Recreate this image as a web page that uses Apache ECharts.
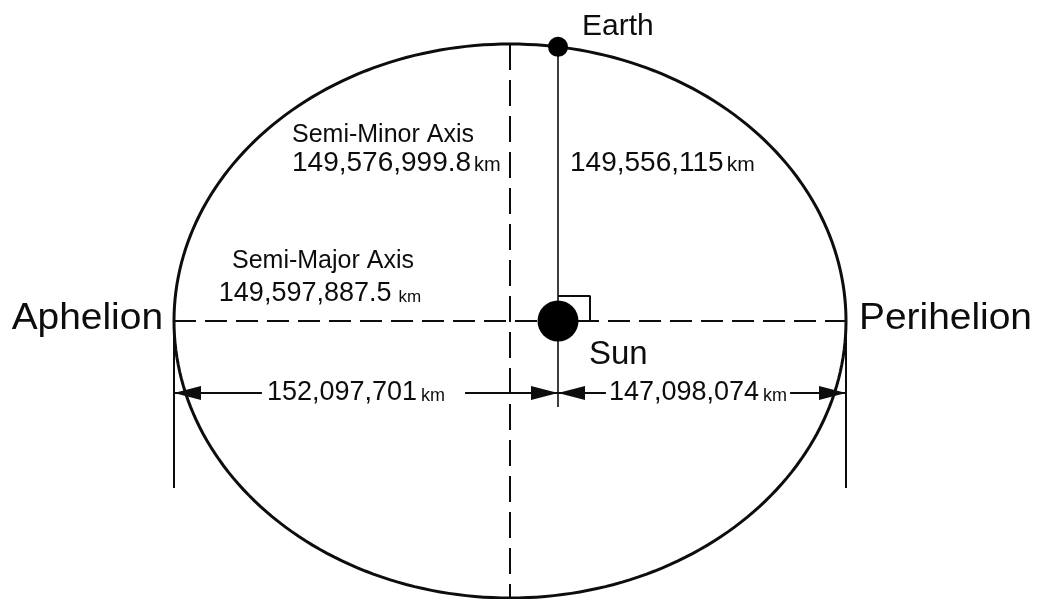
<!DOCTYPE html>
<html>
<head>
<meta charset="utf-8">
<title>Earth orbit</title>
<script src="https://cdn.jsdelivr.net/npm/echarts@6/dist/echarts.min.js"></script>
<style>
  html, body { margin: 0; padding: 0; background: #fff; }
  #chart { width: 1037px; height: 599px; }
</style>
</head>
<body>
<div id="chart"></div>
<script>
// data
const bodies = ['Earth', 'Sun'];
const apsides = ['Aphelion', 'Perihelion'];
const axisNames = ['Semi-Major Axis', 'Semi-Minor Axis'];
const axisLengthsKm = [149597887.5, 149576999.8];
const earthSunKm = [149556115];
const apsisDistancesKm = [152097701, 147098074];

// schematic geometry (drawing units, ~1 unit per px, ellipse centre at 0,0)
const ORBIT = {a: 336, b: 277, focus: 48};
const X_RANGE = [-510, 527];
const Y_RANGE = [-278, 321];
const DIM_Y = -72;
const FONT = '"Liberation Sans", Arial, Helvetica, sans-serif';
const INK = '#0d0d0d';
// canvas 'middle' baseline sits about this fraction of the font size above the alphabetic one
const MID = 0.3465;

const earthY = ORBIT.b * Math.sqrt(1 - Math.pow(ORBIT.focus / ORBIT.a, 2));

function fmtNum(v) {
  const parts = String(v).split('.');
  parts[0] = parts[0].replace(/\B(?=(\d{3})+(?!\d))/g, ',');
  return parts.join('.');
}

const measureCtx = document.createElement('canvas').getContext('2d');
function textWidth(str, size) {
  measureCtx.font = size + 'px ' + FONT;
  return measureCtx.measureText(str).width;
}

// 标签
const labelItems = [
  {text: bodies[0], pos: [72, 294], align: 'left', size: 30},
  {text: bodies[1], pos: [79, -34], align: 'left', size: 33},
  {text: apsides[0], pos: [-347, 2], align: 'right', size: 36, scaleX: 1.08},
  {text: apsides[1], pos: [349, 2], align: 'left', size: 36, scaleX: 1.08},
  {text: axisNames[1], pos: [-218, 186], align: 'left', size: 25},
  {km: axisLengthsKm[1], pos: [-218, 158], align: 'left', size: 28, kmSize: 20, gap: 3},
  {km: earthSunKm[0], pos: [60, 158], align: 'left', size: 28, kmSize: 21, gap: 3},
  {text: axisNames[0], pos: [-187, 60], align: 'center', size: 25},
  {km: axisLengthsKm[0], pos: [-190, 27], align: 'center', size: 27, kmSize: 17, gap: 7}
];

// dimension lines: from, to, label centre x
const dimItems = [
  [-ORBIT.a, ORBIT.focus, -154],
  [ORBIT.focus, ORBIT.a, 188]
];
const dimPadding = [[20, 5], [3, 3]];   // right, left white margin round the label

// number + smaller "km" sharing one baseline
function kmLabel(px, py, align, value, size, kmSize, gap, pad) {
  const num = fmtNum(value);
  const wN = textWidth(num, size);
  const wK = textWidth('km', kmSize);
  const total = wN + gap + wK;
  let x0 = px;
  if (align === 'center') x0 = px - total / 2;
  else if (align === 'right') x0 = px - total;
  const children = [];
  if (pad) {
    const h = size * 0.9;
    children.push({
      type: 'rect',
      shape: {x: x0 - pad[1], y: py - h / 2, width: total + pad[0] + pad[1], height: h},
      style: {fill: '#fff'}
    });
  }
  children.push({
    type: 'text', x: x0, y: py,
    style: {text: num, fontFamily: FONT, fontSize: size, fill: INK, align: 'left', verticalAlign: 'middle'}
  });
  children.push({
    type: 'text', x: x0 + wN + gap, y: py + MID * (size - kmSize),
    style: {text: 'km', fontFamily: FONT, fontSize: kmSize, fill: INK, align: 'left', verticalAlign: 'middle'}
  });
  return {type: 'group', children: children};
}

function segment(name, pts, width, type) {
  return {
    name: name,
    type: 'line',
    data: pts,
    symbol: 'none',
    silent: true,
    lineStyle: {color: INK, width: width, type: type || 'solid'},
    z: 2
  };
}

const chart = echarts.init(document.getElementById('chart'));

const option = {
  backgroundColor: '#fff',
  animation: false,
  grid: {left: 0, right: 0, top: 0, bottom: 0},
  xAxis: {type: 'value', min: X_RANGE[0], max: X_RANGE[1], show: false},
  yAxis: {type: 'value', min: Y_RANGE[0], max: Y_RANGE[1], show: false},
  series: [
    // orbit
    {
      name: 'orbit',
      type: 'custom',
      silent: true,
      z: 3,
      data: [[0, 0]],
      renderItem: function (params, api) {
        const pts = [];
        for (let k = 0; k <= 240; k++) {
          const t = k / 240 * Math.PI * 2;
          pts.push(api.coord([api.value(0) + ORBIT.a * Math.cos(t), api.value(1) + ORBIT.b * Math.sin(t)]));
        }
        return {type: 'polygon', shape: {points: pts}, style: {fill: 'none', stroke: INK, lineWidth: 3}};
      }
    },
    segment('majorAxis', [[-ORBIT.a, 0], [ORBIT.a, 0]], 2, [22, 9]),
    segment('minorAxis', [[0, ORBIT.b], [0, -ORBIT.b]], 2, [26, 10]),
    segment('earthSun', [[ORBIT.focus, earthY], [ORBIT.focus, -86]], 1.6),
    segment('rightAngle', [[ORBIT.focus, 25], [ORBIT.focus + 32, 25], [ORBIT.focus + 32, 0]], 2),
    segment('extLeft', [[-ORBIT.a, -8], [-ORBIT.a, -167]], 2),
    segment('extRight', [[ORBIT.a, -8], [ORBIT.a, -167]], 2),
    // Earth and Sun
    {
      name: 'bodies',
      type: 'scatter',
      silent: true,
      z: 5,
      data: [[ORBIT.focus, earthY], [ORBIT.focus, 0]],
      symbolSize: function (val, params) {
        return [20, 41][params.dataIndex];
      },
      itemStyle: {color: '#000', opacity: 1}
    },
    // distance arrows
    {
      name: 'distances',
      type: 'custom',
      silent: true,
      z: 6,
      data: dimItems.map(d => [d[0], d[1], DIM_Y, d[2]]),
      renderItem: function (params, api) {
        const i = params.dataIndex;
        const p1 = api.coord([api.value(0), api.value(2)]);
        const p2 = api.coord([api.value(1), api.value(2)]);
        const lc = api.coord([api.value(3), api.value(2)]);
        const len = 27, hw = 7;
        return {
          type: 'group',
          children: [
            {type: 'line', shape: {x1: p1[0], y1: p1[1], x2: p2[0], y2: p2[1]}, style: {stroke: INK, lineWidth: 2}},
            {type: 'polygon', shape: {points: [[p1[0], p1[1]], [p1[0] + len, p1[1] - hw], [p1[0] + len, p1[1] + hw]]}, style: {fill: INK}},
            {type: 'polygon', shape: {points: [[p2[0], p2[1]], [p2[0] - len, p2[1] - hw], [p2[0] - len, p2[1] + hw]]}, style: {fill: INK}},
            kmLabel(lc[0], lc[1], 'center', apsisDistancesKm[i], 27, 18, 4, dimPadding[i])
          ]
        };
      }
    },
    // text labels
    {
      name: 'labels',
      type: 'custom',
      silent: true,
      z: 7,
      data: labelItems.map(l => l.pos),
      renderItem: function (params, api) {
        const item = labelItems[params.dataIndex];
        const p = api.coord([api.value(0), api.value(1)]);
        if (item.km !== undefined) {
          return kmLabel(p[0], p[1], item.align, item.km, item.size, item.kmSize, item.gap);
        }
        return {
          type: 'text', x: p[0], y: p[1], scaleX: item.scaleX || 1,
          style: {
            text: item.text, fontFamily: FONT, fontSize: item.size, fill: INK,
            align: item.align, verticalAlign: 'middle'
          }
        };
      }
    }
  ]
};

chart.setOption(option);
window.addEventListener('resize', () => chart.resize());
</script>
</body>
</html>
